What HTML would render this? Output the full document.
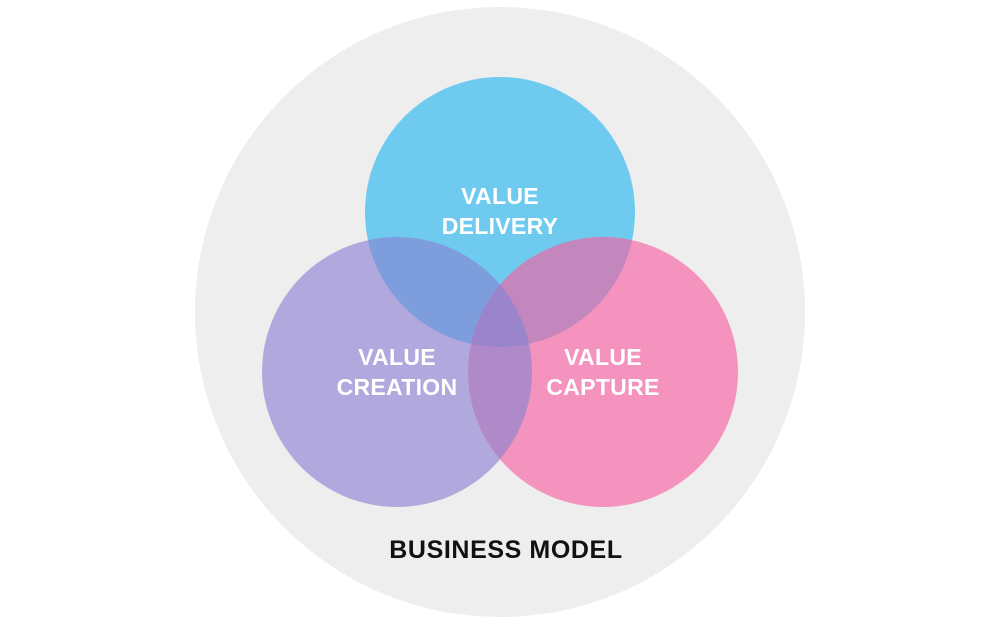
<!DOCTYPE html>
<html><head><style>html,body{margin:0;padding:0;background:#fff;width:1000px;height:625px;overflow:hidden}</style></head>
<body>
<svg width="1000" height="625" viewBox="0 0 1000 625" xmlns="http://www.w3.org/2000/svg">
<defs>
<clipPath id="cT"><circle cx="500" cy="212" r="135"/></clipPath>
<clipPath id="cL"><circle cx="397" cy="372" r="135"/></clipPath>
<clipPath id="cR"><circle cx="603" cy="372" r="135"/></clipPath>
</defs>
<circle cx="500" cy="312" r="305" fill="#eeeeee"/>
<circle cx="500" cy="212" r="135" fill="#6ecbef"/>
<circle cx="397" cy="372" r="135" fill="#b1a8dd"/>
<circle cx="603" cy="372" r="135" fill="#f493bd"/>
<g clip-path="url(#cT)"><circle cx="397" cy="372" r="135" fill="#7d9ddd"/><circle cx="603" cy="372" r="135" fill="#c387bd"/></g>
<g clip-path="url(#cL)"><circle cx="603" cy="372" r="135" fill="#b08ac8"/></g>
<g clip-path="url(#cL)"><g clip-path="url(#cT)"><circle cx="603" cy="372" r="135" fill="#9a84cc"/></g></g>
<g font-family="Liberation Sans, sans-serif" font-weight="bold" font-size="23" fill="#fff" text-anchor="middle" letter-spacing="0.3">
<text x="500" y="204">VALUE</text><text x="500" y="234">DELIVERY</text>
<text x="397" y="365">VALUE</text><text x="397" y="395">CREATION</text>
<text x="603" y="365">VALUE</text><text x="603" y="395">CAPTURE</text>
</g>
<text x="506" y="558" font-family="Liberation Sans, sans-serif" font-weight="bold" font-size="25" fill="#111" text-anchor="middle" letter-spacing="0.6">BUSINESS MODEL</text>
</svg>
</body></html>
